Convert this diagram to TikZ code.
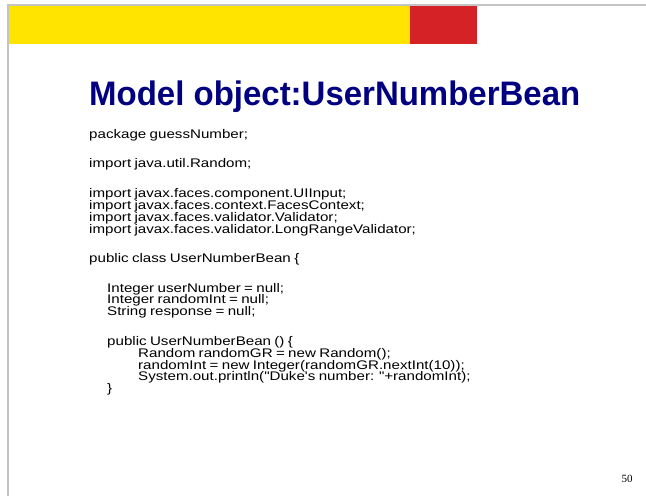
\documentclass[tikz,border=0pt]{standalone}
\usepackage{fontspec}
\usepackage{tikz}
\usetikzlibrary{positioning}
\newfontfamily\codefont[FakeStretch=1.21,WordSpace=0.8]{Liberation Sans}
\newfontfamily\titlefont[FakeStretch=0.97]{Liberation Sans}
\newfontfamily\pagefont{Liberation Serif}
\definecolor{slideyellow}{RGB}{255,228,0}
\definecolor{slidered}{RGB}{212,34,39}
\definecolor{slideframe}{RGB}{196,196,196}
\definecolor{titleblue}{RGB}{0,0,128}
\tikzset{codeline/.style={anchor=base west,inner sep=0pt,text height=8pt,text depth=2.5pt,
    font=\codefont\fontsize{12.5}{13}\selectfont}}

\begin{document}
\begin{tikzpicture}[x=1pt,y=-1pt]
  \useasboundingbox (0,0) rectangle (646,496);
  \fill[white] (0,0) rectangle (646,496);
  % top bars
  \fill[slideyellow] (8,5) rectangle (410,44);
  \fill[slidered] (410,5) rectangle (477,44);
  \draw[slideframe,line width=1.5pt] (8,496) -- (8,5) -- (646,5);

  \node (title) [anchor=base west,inner sep=0pt,text=titleblue,font=\titlefont\bfseries\fontsize{34}{36}\selectfont] at (89,105) {Model object:UserNumberBean};

  \node (pkg) [codeline] at (89,138) {package guessNumber;};
  \node (imprandom) [codeline] at (89,167) {import java.util.Random;};
  \node (impinput) [codeline] at (89,197) {import javax.faces.component.UIInput;};
  \node (impcontext) [codeline] at (89,209) {import javax.faces.context.FacesContext;};
  \node (impvalid) [codeline] at (89,221) {import javax.faces.validator.Validator;};
  \node (implong) [codeline] at (89,233) {import javax.faces.validator.LongRangeValidator;};

  \node (cls) [codeline] at (89,262) {public class UserNumberBean \{};

  \node (usernum) [codeline] at (107,292) {Integer userNumber = null;};
  \node (randint) [codeline] at (107,303.5) {Integer randomInt = null;};
  \node (resp) [codeline] at (107,315) {String response = null;};

  \node (ctor) [codeline] at (107,345) {public UserNumberBean () \{};
  \node (newrandom) [codeline] at (138,357) {Random randomGR = new Random();};
  \node (nextint) [codeline] at (138,369) {randomInt = new Integer(randomGR.nextInt(10));};
  \node (println) [codeline] at (138,380.5) {System.out.println("Duke's number: "+randomInt);};
  \node (ctorend) [codeline] at (107,392) {\}};

  \node (pagenum) [anchor=base,inner sep=0pt,font=\pagefont\fontsize{11}{12}\selectfont] at (627,482) {50};
\end{tikzpicture}
\end{document}
